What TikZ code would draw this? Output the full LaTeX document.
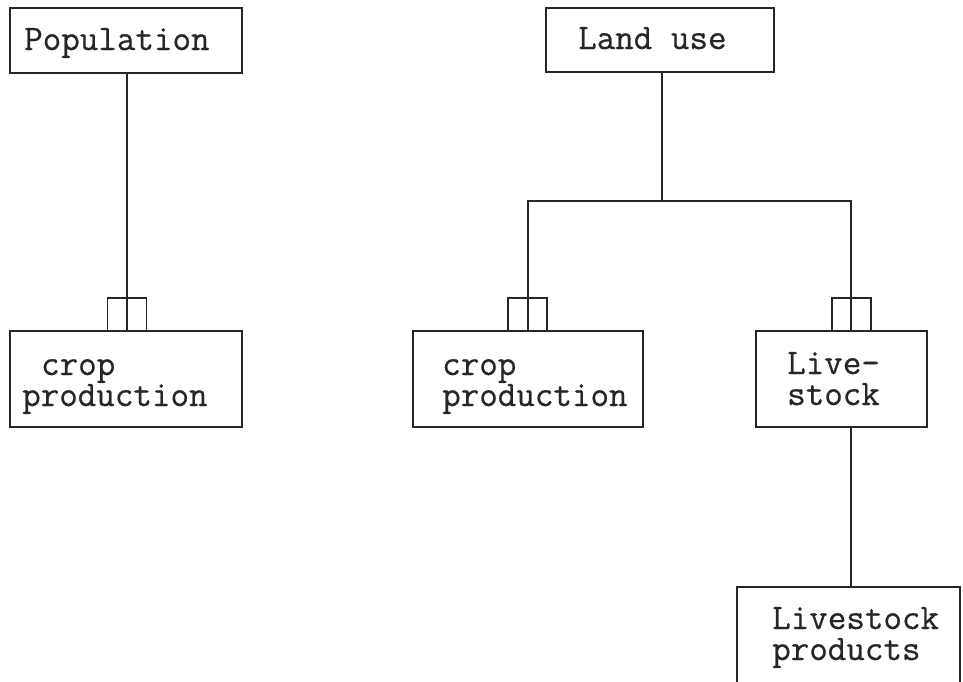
\documentclass[tikz,border=0pt]{standalone}
\usepackage{fontspec}
\newfontfamily\typewriter[FakeBold=0.6]{Latin Modern Mono}
\begin{document}
\begin{tikzpicture}[x=1pt,y=-1pt,
  ink/.style={draw=black!85,line width=1.7pt},
  box/.style={ink,rectangle,inner sep=0pt,anchor=center},
  socket/.style={box,minimum width=39pt,minimum height=33pt},
  label/.style={inner sep=0pt,anchor=base west,align=left,text=black!85,
    font={\typewriter\fontsize{36}{31}\selectfont}},
  wire/.style={ink}]
\useasboundingbox (0,0) rectangle (963,681);
\clip (0,0) rectangle (963,681);

% boxes
\node[box,minimum width=232pt,minimum height=65pt] (pop)   at (126,40.5) {};
\node[box,minimum width=228pt,minimum height=64pt] (land)  at (660,40)   {};
\node[box,minimum width=232pt,minimum height=96pt] (crop1) at (126,379)  {};
\node[box,minimum width=230pt,minimum height=96pt] (crop2) at (528,379)  {};
\node[box,minimum width=171pt,minimum height=96pt] (live)  at (841.5,379) {};
\node[box,minimum width=223pt,minimum height=113pt] (prod) at (848.5,643.5) {};

% sockets on top of the lower boxes
\node[socket] (s1) at (127,314.5) {};
\node[socket] (s2) at (527.5,314.5) {};
\node[socket] (s3) at (851.5,314.5) {};

% texts (base anchor sits on the last line)
\node[label] (tpop)   at (24,50)   {Population};
\node[label] (tland)  at (578,49)  {Land use};
\node[label] (tcrop1) at (22,406)  {\hspace*{18.9pt}crop\\production};
\node[label] (tcrop2) at (442,406) {crop\\production};
\node[label] (tlive)  at (787,405) {Live-\\stock};
\node[label] (tprod)  at (772,660) {Livestock\\products};

% connectors
\coordinate (hub) at (662,201);
\coordinate (hr)  at (851,201);
\draw[wire] (pop.south -| s1) -- (crop1.north -| s1);
\draw[wire] (land.south -| hub) -- (hub);
\draw[wire] (crop2.north) |- (hr) -- (live.north -| hr);
\draw[wire] (live.south -| hr) -- (prod.north -| hr);
\end{tikzpicture}
\end{document}
